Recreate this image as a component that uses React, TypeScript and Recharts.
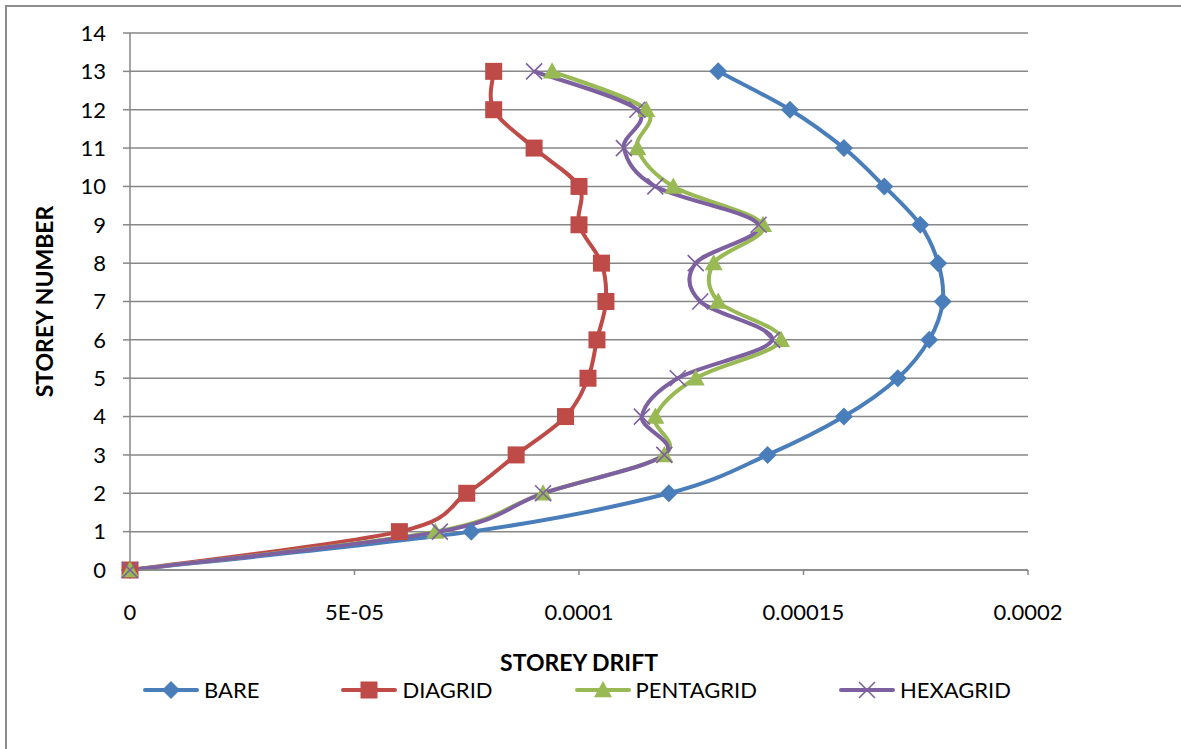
import React from "react";
import { CartesianGrid, Line, LineChart, XAxis, YAxis } from "recharts";

const storeys = [0, 1, 2, 3, 4, 5, 6, 7, 8, 9, 10, 11, 12, 13];
const bare = [0, 7.6e-5, 1.2e-4, 1.42e-4, 1.59e-4, 1.71e-4, 1.78e-4, 1.81e-4, 1.8e-4, 1.76e-4, 1.68e-4, 1.59e-4, 1.47e-4, 1.31e-4];
const diagrid = [0, 6.0e-5, 7.5e-5, 8.6e-5, 9.7e-5, 1.02e-4, 1.04e-4, 1.06e-4, 1.05e-4, 1.0e-4, 1.0e-4, 9.0e-5, 8.1e-5, 8.1e-5];
const pentagrid = [0, 6.8e-5, 9.2e-5, 1.19e-4, 1.17e-4, 1.26e-4, 1.45e-4, 1.31e-4, 1.3e-4, 1.41e-4, 1.21e-4, 1.13e-4, 1.15e-4, 9.4e-5];
const hexagrid = [0, 6.9e-5, 9.2e-5, 1.19e-4, 1.14e-4, 1.22e-4, 1.43e-4, 1.27e-4, 1.26e-4, 1.4e-4, 1.17e-4, 1.1e-4, 1.13e-4, 9.0e-5];

const yTicks = [0, 1, 2, 3, 4, 5, 6, 7, 8, 9, 10, 11, 12, 13, 14];
const xTicks = [0, 0.00005, 0.0001, 0.00015, 0.0002];
const xTickLabels = ["0", "5E-05", "0.0001", "0.00015", "0.0002"];

const seriesNames = ["BARE", "DIAGRID", "PENTAGRID", "HEXAGRID"];
const seriesKeys = ["bare", "diagrid", "pentagrid", "hexagrid"];
const seriesColors = ["#4a7ebb", "#be4b48", "#98b954", "#7d60a0"];
const seriesShapes = ["diamond", "square", "triangle", "cross"];

const data = storeys.map((s, i) => ({
  storey: s,
  bare: bare[i],
  diagrid: diagrid[i],
  pentagrid: pentagrid[i],
  hexagrid: hexagrid[i],
}));

const FONT = "Lato, 'Open Sans', sans-serif";
const GRID = "#878787";

// Excel-like smooth line (Catmull-Rom through the points)
function excelSmooth(context: any) {
  let pts: number[][] = [];
  return {
    areaStart() {},
    areaEnd() {},
    lineStart() {
      pts = [];
    },
    point(x: number, y: number) {
      pts.push([+x, +y]);
    },
    lineEnd() {
      if (!pts.length) return;
      context.moveTo(pts[0][0], pts[0][1]);
      for (let i = 0; i < pts.length - 1; i++) {
        const p0 = pts[i - 1] || pts[i];
        const p1 = pts[i];
        const p2 = pts[i + 1];
        const p3 = pts[i + 2] || p2;
        context.bezierCurveTo(
          p1[0] + (p2[0] - p0[0]) / 6,
          p1[1] + (p2[1] - p0[1]) / 6,
          p2[0] - (p3[0] - p1[0]) / 6,
          p2[1] - (p3[1] - p1[1]) / 6,
          p2[0],
          p2[1]
        );
      }
    },
  };
}

function Marker({ shape, cx, cy, color }: { shape: string; cx: number; cy: number; color: string }) {
  if (shape === "diamond") {
    const r = 9;
    return <path d={`M${cx},${cy - r}L${cx + r},${cy}L${cx},${cy + r}L${cx - r},${cy}Z`} fill={color} />;
  }
  if (shape === "square") {
    const r = 8.5;
    return <rect x={cx - r} y={cy - r} width={r * 2} height={r * 2} fill={color} />;
  }
  if (shape === "triangle") {
    const r = 9;
    return <path d={`M${cx},${cy - r}L${cx + r},${cy + r * 0.8}L${cx - r},${cy + r * 0.8}Z`} fill={color} />;
  }
  const r = 8;
  return (
    <path
      d={`M${cx - r},${cy - r}L${cx + r},${cy + r}M${cx - r},${cy + r}L${cx + r},${cy - r}`}
      stroke={color}
      strokeWidth={1.6}
      fill="none"
    />
  );
}

function makeDot(shape: string, color: string) {
  return (props: any) => {
    const { cx, cy, index } = props;
    if (cx == null || cy == null) return <g key={index} />;
    return (
      <g key={`${shape}-${index}`}>
        <Marker shape={shape} cx={cx} cy={cy} color={color} />
      </g>
    );
  };
}

function LegendRow() {
  return (
    <div
      style={{
        position: "absolute",
        left: 0,
        width: 1154,
        top: 676,
        display: "flex",
        justifyContent: "center",
        gap: 82,
        fontFamily: FONT,
        fontSize: 22,
        color: "#000",
      }}
    >
      {seriesNames.map((name, i) => (
        <div key={name} style={{ display: "flex", alignItems: "center", gap: 5 }}>
          <svg width={56} height={26}>
            <line x1={2} y1={13} x2={54} y2={13} stroke={seriesColors[i]} strokeWidth={4} strokeLinecap="round" />
            <Marker shape={seriesShapes[i]} cx={28} cy={13} color={seriesColors[i]} />
          </svg>
          <span>{name}</span>
        </div>
      ))}
    </div>
  );
}

export default function App() {
  return (
    <div style={{ position: "absolute", left: 0, top: 0, width: 1181, height: 749, overflow: "hidden", background: "#fff" }}>
      <div
        style={{
          position: "absolute",
          left: 5,
          top: 5,
          width: 1300,
          height: 900,
          border: "2px solid #8c8c8c",
        }}
      />
      <div style={{ position: "absolute", left: 0, top: 0 }}>
        <LineChart
          width={1181}
          height={749}
          data={data}
          layout="vertical"
          margin={{ top: 33, right: 153, left: 0, bottom: 149 }}
        >
          <CartesianGrid vertical={false} stroke={GRID} strokeWidth={1.5} />
          <XAxis
            type="number"
            domain={[0, 0.0002]}
            ticks={xTicks}
            interval={0}
            tickFormatter={(v: number, i: number) => xTickLabels[i]}
            stroke={GRID}
            strokeWidth={1.5}
            tickSize={5}
            tickMargin={29}
            height={30}
            tick={{ fill: "#000", fontSize: 22, fontFamily: FONT }}
            label={{
              content: (p: any) => {
                const vb = p.viewBox;
                return (
                  <text
                    x={vb.x + vb.width / 2}
                    y={671}
                    textAnchor="middle"
                    fontFamily={FONT}
                    fontWeight="bold"
                    fontSize={23}
                    fill="#000"
                  >
                    STOREY DRIFT
                  </text>
                );
              },
            }}
          />
          <YAxis
            type="number"
            dataKey="storey"
            domain={[0, 14]}
            ticks={yTicks}
            interval={0}
            reversed
            stroke={GRID}
            strokeWidth={1.5}
            tickSize={7}
            tickMargin={17}
            width={130}
            tick={{ fill: "#000", fontSize: 22, fontFamily: FONT }}
            label={{
              content: (p: any) => {
                const vb = p.viewBox;
                const cy = vb.y + vb.height / 2;
                return (
                  <text
                    x={53}
                    y={cy}
                    transform={`rotate(-90 53 ${cy})`}
                    textAnchor="middle"
                    fontFamily={FONT}
                    fontWeight="bold"
                    fontSize={23}
                    fill="#000"
                  >
                    STOREY NUMBER
                  </text>
                );
              },
            }}
          />
          {seriesKeys.map((k, i) => (
            <Line
              key={k}
              dataKey={k}
              name={seriesNames[i]}
              type={excelSmooth as any}
              stroke={seriesColors[i]}
              strokeWidth={4}
              dot={makeDot(seriesShapes[i], seriesColors[i])}
              activeDot={false}
              isAnimationActive={false}
            />
          ))}
        </LineChart>
      </div>
      <LegendRow />
    </div>
  );
}
